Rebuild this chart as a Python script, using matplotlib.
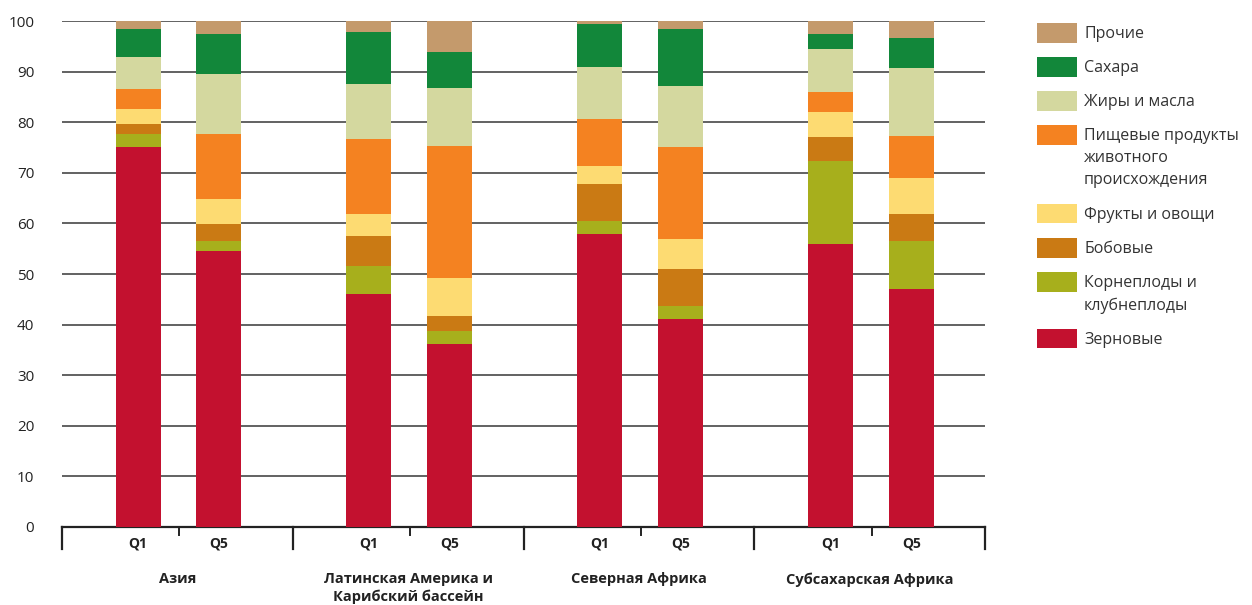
import numpy as np
import matplotlib as mpl
mpl.use("Agg")
import matplotlib.pyplot as plt
from matplotlib.patches import Rectangle

plt.rcParams['font.family'] = ['Open Sans', 'Noto Sans', 'DejaVu Sans']

regions = ["Азия", "Латинская Америка и\nКарибский бассейн", "Северная Африка", "Субсахарская Африка"]
quintiles = ["Q1", "Q5"]

# stack order bottom -> top
categories = ["Зерновые", "Корнеплоды и\nклубнеплоды", "Бобовые", "Фрукты и овощи",
              "Пищевые продукты\nживотного\nпроисхождения", "Жиры и масла", "Сахара", "Прочие"]
colors = ["#C3112F", "#A7AF1C", "#CA7A14", "#FDDB72", "#F48221", "#D4D89F", "#12873A", "#C49A6C"]

# one row per bar: Asia Q1, Asia Q5, LA Q1, LA Q5, NA Q1, NA Q5, SSA Q1, SSA Q5
cereals = [75.2, 54.5, 46.1, 36.2, 57.9, 41.2, 55.9, 47.1]
roots   = [2.5, 2.0, 5.5, 2.5, 2.5, 2.5, 16.4, 9.4]
pulses  = [2.0, 3.4, 5.9, 3.0, 7.4, 7.3, 4.8, 5.4]
fruit   = [3.0, 5.0, 4.4, 7.5, 3.5, 6.0, 5.0, 7.1]
animal  = [3.9, 12.8, 14.8, 26.1, 9.3, 18.2, 3.9, 8.3]
fats    = [6.4, 11.9, 10.8, 11.4, 10.4, 11.9, 8.5, 13.5]
sugar   = [5.4, 7.8, 10.4, 7.3, 8.4, 11.3, 2.9, 5.8]
other   = [1.6, 2.6, 2.1, 6.1, 0.6, 1.6, 2.6, 3.6]

series = [cereals, roots, pulses, fruit, animal, fats, sugar, other]

fig = plt.figure(figsize=(12.52, 6.05), dpi=100)
ax = fig.add_axes([0.0495, 0.129, 0.7375, 0.836])

offsets = [0.33, 0.68]
x = np.array([g + o for g in range(len(regions)) for o in offsets])
width = 0.195

bottom = np.zeros(len(x))
for vals, col in zip(series, colors):
    vals = np.array(vals)
    ax.bar(x, vals, width, bottom=bottom, color=col, zorder=3, linewidth=0)
    bottom += vals

ax.set_xlim(0, len(regions))
ax.set_ylim(0, 100)
ax.set_yticks(np.arange(0, 101, 10))
ax.yaxis.grid(True, color='#555555', linewidth=1.3, zorder=0)
ax.set_axisbelow(True)
ax.tick_params(axis='y', length=0, labelsize=11, pad=20, colors='#222222')
ax.tick_params(axis='x', length=0)
ax.set_xticks([])
for s in ['top', 'right', 'left']:
    ax.spines[s].set_visible(False)
ax.spines['bottom'].set_linewidth(1.6)
ax.spines['bottom'].set_color('#222222')

# group and quintile separators below the axis
trans = ax.get_xaxis_transform()
for g in range(len(regions) + 1):
    ax.plot([g, g], [0, -0.044], transform=trans, color='#222222', lw=1.6, clip_on=False)
for g in range(len(regions)):
    ax.plot([g + 0.507, g + 0.507], [0, -0.016], transform=trans, color='#222222', lw=1.4, clip_on=False)
    for o, q in zip(offsets, quintiles):
        ax.text(g + o, -0.032, q, transform=trans, ha='center', va='center',
                fontsize=10, fontweight='bold', color='#222222')
    ax.text(g + 0.5, -0.09, regions[g], transform=trans, ha='center', va='top',
            fontsize=10.5, fontweight='bold', color='#222222', linespacing=1.25)

# legend, top entry first
W, H = 1252.0, 605.0
ypix = 33.0
for cat, col in reversed(list(zip(categories, colors))):
    n = cat.count("\n") + 1
    fig.add_artist(Rectangle((1037 / W, 1 - (ypix + 9.5) / H), 40 / W, 19 / H,
                             transform=fig.transFigure, facecolor=col, edgecolor='none'))
    fig.text(1084 / W, 1 - (ypix - 7) / H, cat, ha='left', va='top', fontsize=11.5,
             color='#333333', linespacing=1.5)
    ypix += 34 + (n - 1) * 22.5

fig.savefig("out.png", dpi=100)
